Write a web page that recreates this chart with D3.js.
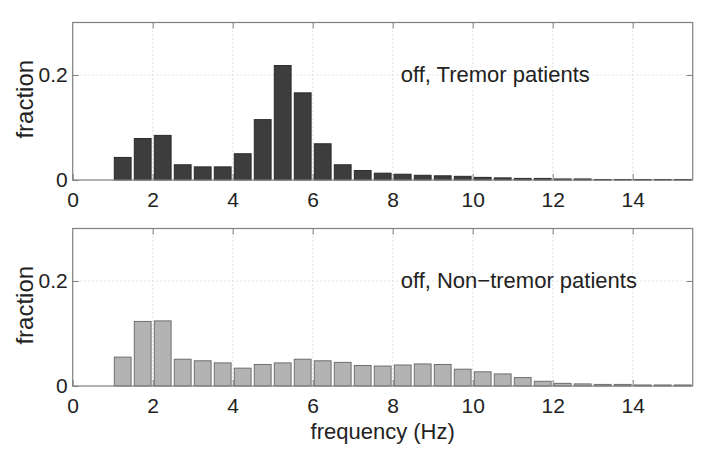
<!DOCTYPE html>
<html>
<head>
<meta charset="utf-8">
<script src="https://cdn.jsdelivr.net/npm/d3@7"></script>
<style>
  body { margin: 0; background: #fff; }
  text { font-family: "Liberation Sans", Arial, sans-serif; fill: #222; }
</style>
</head>
<body>
<div id="chart"></div>
<script>
// bin centres, 0.5 Hz bins
const binCenters = [0.25, 0.75, 1.25, 1.75, 2.25, 2.75, 3.25, 3.75, 4.25, 4.75, 5.25, 5.75,
  6.25, 6.75, 7.25, 7.75, 8.25, 8.75, 9.25, 9.75, 10.25, 10.75, 11.25, 11.75,
  12.25, 12.75, 13.25, 13.75, 14.25, 14.75, 15.25];

const tremorValues = [0, 0, 0.043, 0.079, 0.085, 0.029, 0.025, 0.025, 0.050, 0.115, 0.218, 0.166,
  0.069, 0.029, 0.018, 0.013, 0.011, 0.009, 0.008, 0.007, 0.005, 0.004, 0.003, 0.003,
  0.002, 0.002, 0.001, 0.001, 0.001, 0.001, 0.001];

const nonTremorValues = [0, 0, 0.055, 0.123, 0.124, 0.051, 0.048, 0.044, 0.034, 0.041, 0.044, 0.051,
  0.048, 0.045, 0.039, 0.038, 0.040, 0.042, 0.041, 0.032, 0.027, 0.023, 0.016, 0.009,
  0.005, 0.004, 0.003, 0.003, 0.002, 0.002, 0.002];

const xTicks = [0, 2, 4, 6, 8, 10, 12, 14];
const yTicks = [0, 0.2];
const panelTitles = ['off, Tremor patients', 'off, Non\u2212tremor patients'];

const W = 704, H = 467;
const binW = 0.5;

const svg = d3.select('#chart').append('svg')
  .attr('width', W)
  .attr('height', H);

const x = d3.scaleLinear().domain([0, 15.5]).range([72.7, 692.7]);

function panel(values, title, top, bottom, barFill, barStroke) {
  const y = d3.scaleLinear().domain([0, 0.3]).range([bottom, top]);
  const g = svg.append('g');

  // dotted grid
  g.selectAll('.vgrid')
    .data(xTicks.filter(d => d > 0))
    .join('line')
    .attr('x1', d => x(d)).attr('x2', d => x(d))
    .attr('y1', top).attr('y2', bottom)
    .attr('stroke', '#c8c8c8')
    .attr('stroke-dasharray', '1,3');
  g.selectAll('.hgrid')
    .data(yTicks.filter(d => d > 0))
    .join('line')
    .attr('x1', x(0)).attr('x2', x(15.5))
    .attr('y1', d => y(d)).attr('y2', d => y(d))
    .attr('stroke', '#c8c8c8')
    .attr('stroke-dasharray', '1,3');

  const data = binCenters.map((c, i) => ({ c, v: values[i] }));
  g.selectAll('rect.bar')
    .data(data)
    .join('rect')
    .attr('class', 'bar')
    .attr('x', d => x(d.c - binW * 0.42))
    .attr('width', d => x(d.c + binW * 0.42) - x(d.c - binW * 0.42))
    .attr('y', d => y(d.v))
    .attr('height', d => y(0) - y(d.v))
    .attr('fill', barFill)
    .attr('stroke', barStroke)
    .attr('stroke-width', 1);

  // box
  g.append('rect')
    .attr('x', x(0)).attr('y', top)
    .attr('width', x(15.5) - x(0)).attr('height', bottom - top)
    .attr('fill', 'none')
    .attr('stroke', '#808080')
    .attr('stroke-width', 1.2);

  const axStyle = sel => {
    sel.select('.domain').remove();
    sel.selectAll('.tick line').attr('stroke', '#808080');
    sel.selectAll('text').style('font-size', '21px').attr('fill', '#222');
  };

  g.append('g')
    .attr('transform', `translate(0,${bottom})`)
    .call(d3.axisBottom(x).tickValues(xTicks).tickSize(-6).tickPadding(12).tickFormat(d3.format('d')))
    .call(axStyle);
  g.append('g')
    .attr('transform', `translate(0,${top})`)
    .call(d3.axisTop(x).tickValues(xTicks.filter(d => d > 0)).tickSize(-6).tickFormat(''))
    .call(axStyle);
  g.append('g')
    .attr('transform', `translate(${x(0)},0)`)
    .call(d3.axisLeft(y).tickValues(yTicks).tickSize(-6).tickPadding(5).tickFormat(d => d === 0 ? '0' : d3.format('.1f')(d)))
    .call(axStyle);
  g.append('g')
    .attr('transform', `translate(${x(15.5)},0)`)
    .call(d3.axisRight(y).tickValues(yTicks.filter(d => d > 0)).tickSize(-6).tickFormat(''))
    .call(axStyle);

  g.append('text')
    .attr('x', x(8.2))
    .attr('y', y(0.2) + 7)
    .style('font-size', '22px')
    .text(title);

  g.append('text')
    .attr('transform', `translate(33,${(top + bottom) / 2 - 2}) rotate(-90)`)
    .attr('text-anchor', 'middle')
    .style('font-size', '24px')
    .text('fraction');
}

panel(tremorValues, panelTitles[0], 22.5, 180, '#3d3d3d', '#2a2a2a');
panel(nonTremorValues, panelTitles[1], 228.5, 386, '#b3b3b3', '#6e6e6e');

svg.append('text')
  .attr('x', x(7.75))
  .attr('y', 439)
  .attr('text-anchor', 'middle')
  .style('font-size', '22px')
  .text('frequency (Hz)');
</script>
</body>
</html>
